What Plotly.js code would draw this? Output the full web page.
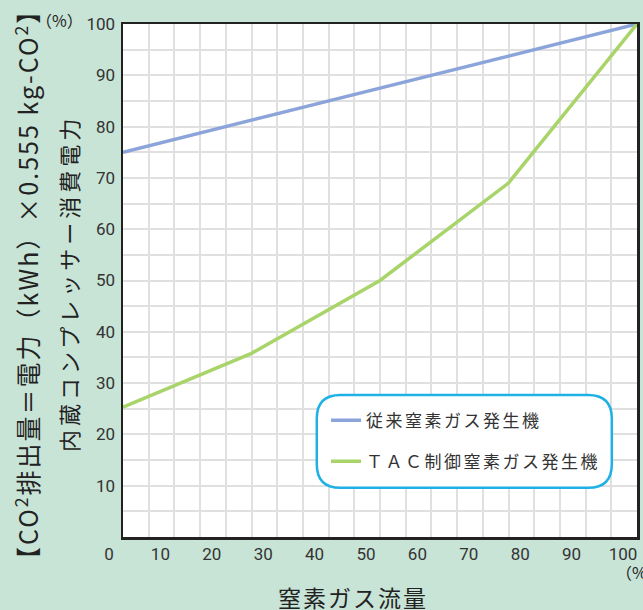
<!DOCTYPE html>
<html>
<head>
<meta charset="utf-8">
<script src="https://cdn.plot.ly/plotly-3.0.1.min.js"></script>
<style>html,body{margin:0;padding:0;background:#c8e4d6;}#chart{width:643px;height:610px;}</style>
</head>
<body>
<div id="chart"></div>
<script>
// ---- data ----
const seriesNames = ["従来窒素ガス発生機", "ＴＡＣ制御窒素ガス発生機"];
const conventionalFlow = [0, 100];
const conventionalPower = [75, 100];
const tacFlow = [0, 25, 50, 75, 100];
const tacPower = [25.3, 35.8, 50, 69, 100];
const xTickVals = [0, 10, 20, 30, 40, 50, 60, 70, 80, 90, 100];
const yTickVals = [10, 20, 30, 40, 50, 60, 70, 80, 90, 100];
const yTitle1 = "【CO<sup>2</sup>排出量＝電力（kWh）×0.555 kg-CO<sup>2</sup>】";
const yTitle2 = "内蔵コンプレッサー消費電力";
const xTitle = "窒素ガス流量";
const unitLabel = "（%）";

const FONT = "'Noto Sans CJK JP', 'Noto Sans', sans-serif";
const TICKFONT = "Roboto, 'Liberation Sans', sans-serif";
const spaced = (t, px) => `<span style="letter-spacing:${px}px">${t}</span>`;

// rounded legend frame (data coords)
const bx0 = 37.7, bx1 = 95.1, by0 = 9.6, by1 = 27.7, r = 4.6;
const framePath = `M ${bx0 + r},${by1} L ${bx1 - r},${by1} Q ${bx1},${by1} ${bx1},${by1 - r} ` +
  `L ${bx1},${by0 + r} Q ${bx1},${by0} ${bx1 - r},${by0} L ${bx0 + r},${by0} ` +
  `Q ${bx0},${by0} ${bx0},${by0 + r} L ${bx0},${by1 - r} Q ${bx0},${by1} ${bx0 + r},${by1} Z`;

const traces = [
  {x: conventionalFlow, y: conventionalPower, name: spaced(seriesNames[0], 2.5), mode: "lines",
   line: {color: "#8ba4d9", width: 3.5}, legendgroup: "a"},
  {x: tacFlow, y: tacPower, name: spaced(seriesNames[1], 2.5), mode: "lines",
   line: {color: "#a8d46a", width: 3.5}, legendgroup: "b"}
];

const layout = {
  width: 643, height: 610,
  margin: {l: 123, r: 6, t: 24, b: 73},
  paper_bgcolor: "#c8e4d6",
  plot_bgcolor: "#ffffff",
  showlegend: true,
  legend: {x: 0.395, xanchor: "left", y: 0.262, yanchor: "top",
           bgcolor: "rgba(0,0,0,0)", font: {family: FONT, size: 17, color: "#333"},
           traceorder: "grouped", tracegroupgap: 16},
  xaxis: {range: [0, 100], tickvals: xTickVals, showgrid: true, gridcolor: "#e0e0e0", gridwidth: 2,
          minor: {dtick: 5, showgrid: true, gridcolor: "#e0e0e0", gridwidth: 2},
          showline: true, mirror: true, linecolor: "#222", linewidth: 2.5, zeroline: false,
          ticks: "", ticklabelstandoff: 0, ticklabelshift: -14,
          tickfont: {family: TICKFONT, size: 17, color: "#333"}, fixedrange: true},
  yaxis: {range: [0, 100], tickvals: yTickVals, showgrid: true, gridcolor: "#e0e0e0", gridwidth: 2,
          minor: {dtick: 5, showgrid: true, gridcolor: "#e0e0e0", gridwidth: 2},
          showline: true, mirror: true, linecolor: "#222", linewidth: 2.5, zeroline: false,
          ticks: "", ticklabelstandoff: 2,
          tickfont: {family: TICKFONT, size: 17, color: "#333"}, fixedrange: true},
  shapes: [
    {type: "path", xref: "x", yref: "y", path: framePath, fillcolor: "#ffffff",
     line: {color: "#1fb1e6", width: 2.5}, layer: "above"}
  ],
  annotations: [
    {text: spaced(yTitle1, 2), xref: "paper", yref: "paper", x: -0.187, y: 0.493, textangle: -90,
     xanchor: "center", yanchor: "middle",
     showarrow: false, font: {family: FONT, size: 25, color: "#222"}},
    {text: spaced(yTitle2, 4), xref: "paper", yref: "paper", x: -0.107, y: 0.493, textangle: -90,
     xanchor: "center", yanchor: "middle",
     showarrow: false, font: {family: FONT, size: 22, color: "#222"}},
    {text: spaced(xTitle, 2), xref: "paper", yref: "paper", x: 0.447, y: -0.117,
     xanchor: "center", yanchor: "middle",
     showarrow: false, font: {family: FONT, size: 23, color: "#222"}},
    {text: unitLabel, xref: "paper", yref: "paper", x: -0.074, y: 1.008, xanchor: "right", yanchor: "middle",
     showarrow: false, font: {family: FONT, size: 16, color: "#222"}},
    {text: unitLabel, xref: "paper", yref: "paper", x: 0.955, y: -0.068, xanchor: "left", yanchor: "middle",
     showarrow: false, font: {family: FONT, size: 16, color: "#222"}}
  ]
};

Plotly.newPlot("chart", traces, layout, {displayModeBar: false, staticPlot: true});
</script>
</body>
</html>
